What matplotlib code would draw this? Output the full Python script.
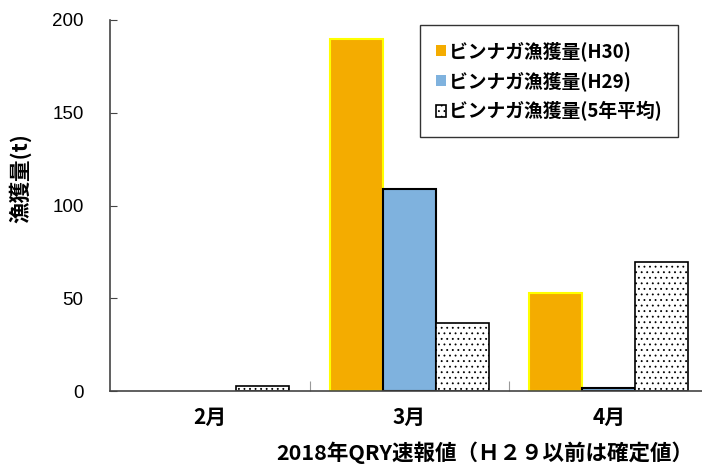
import matplotlib
matplotlib.use("Agg")
import matplotlib.pyplot as plt
import numpy as np

plt.rcParams['font.family'] = ['Noto Sans CJK JP', 'DejaVu Sans']
plt.rcParams['hatch.color'] = '#777777'
plt.rcParams['hatch.linewidth'] = 0.6

months = ['2月', '3月', '4月']
catch_h30 = [0, 190, 53]
catch_h29 = [0, 109, 1.5]
catch_avg5 = [2.5, 36.5, 69.5]
yticks = [0, 50, 100, 150, 200]

fig = plt.figure(figsize=(7.02, 4.66), dpi=100)
ax = fig.add_axes([110 / 702, 1 - 391 / 466, 598.5 / 702, 371 / 466])

x = np.arange(len(months))
w = 0.266
b1 = ax.bar(x - w, catch_h30, w, color='#F4AC00', edgecolor='#FFFF00', linewidth=1.5,
            label='ビンナガ漁獲量(H30)', zorder=2)
b2 = ax.bar(x, catch_h29, w, color='#7FB2DE', edgecolor='black', linewidth=1.5,
            label='ビンナガ漁獲量(H29)', zorder=2)
b3 = ax.bar(x + w, catch_avg5, w, color='white', edgecolor='black', linewidth=1.2,
            hatch='...', label='ビンナガ漁獲量(5年平均)', zorder=2)
# 値0の棒は枠線を描かない
for bars in (b1, b2, b3):
    for r in bars:
        if r.get_height() == 0:
            r.set_linewidth(0)

ax.set_xlim(-0.5, 2.5)
ax.set_ylim(0, 200)
ax.set_yticks(yticks)
ax.set_yticklabels([str(t) for t in yticks], family='Liberation Sans', fontsize=13.5)
ax.tick_params(axis='y', direction='in', length=5, color='#444444', pad=19)
ax.set_xticks([0.5, 1.5])
ax.set_xticklabels([])
ax.tick_params(axis='x', direction='in', length=7, color='#999999')
for i, m in enumerate(months):
    ax.text(i, -14, m, ha='center', va='center', fontsize=15, fontweight='bold')

for s in ['top', 'right']:
    ax.spines[s].set_visible(False)
for s in ['left', 'bottom']:
    ax.spines[s].set_color('#444444')
    ax.spines[s].set_linewidth(1.2)

fig.text(20 / 702, 1 - 178 / 466, '漁獲量(t)', rotation=90, ha='center', va='center',
         fontsize=15.5, fontweight='bold')
fig.text(485 / 702, 1 - 453 / 466, '2018年QRY速報値（Ｈ２９以前は確定値）', ha='center',
         va='center', fontsize=15.5, fontweight='bold')

leg = ax.legend(loc='upper left', bbox_to_anchor=((420 - 110) / 598.5, (391 - 25) / 371),
                frameon=True, fancybox=False, edgecolor='black',
                prop={'size': 13.5, 'weight': 'bold'},
                handlelength=0.55, handleheight=0.55, handletextpad=0.15,
                labelspacing=0.55, borderpad=0.85, borderaxespad=0)
leg.get_frame().set_linewidth(1.0)

fig.savefig('out.png', dpi=100)
